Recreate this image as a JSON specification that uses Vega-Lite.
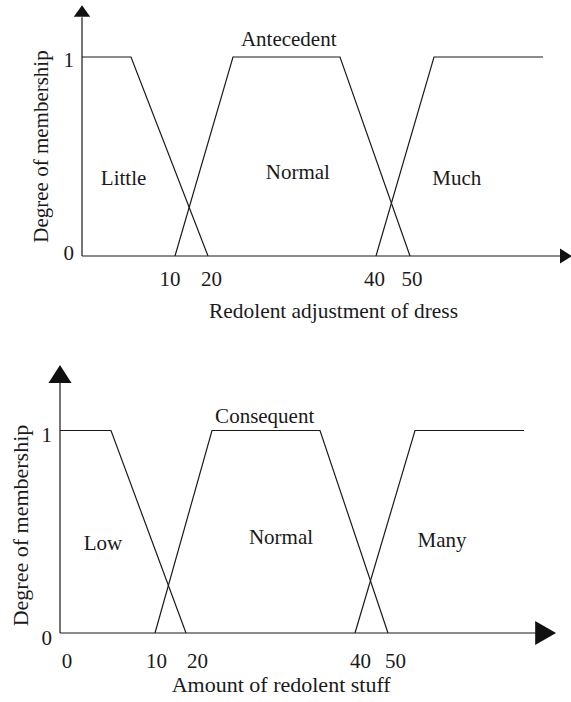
{
  "$schema": "https://vega.github.io/schema/vega-lite/v6.json",
  "background": "white",
  "padding": {"top": 5, "left": 9, "right": 0, "bottom": 0},
  "autosize": {"type": "pad"},
  "bounds": "flush",
  "spacing": 109,
  "datasets": {
    "mf": [
      {"panel": "top", "set": "Little", "u": 0, "mu": 1},
      {"panel": "top", "set": "Little", "u": 49, "mu": 1},
      {"panel": "top", "set": "Little", "u": 126, "mu": 0},
      {"panel": "top", "set": "Normal", "u": 93, "mu": 0},
      {"panel": "top", "set": "Normal", "u": 151, "mu": 1},
      {"panel": "top", "set": "Normal", "u": 258, "mu": 1},
      {"panel": "top", "set": "Normal", "u": 328, "mu": 0},
      {"panel": "top", "set": "Much", "u": 294, "mu": 0},
      {"panel": "top", "set": "Much", "u": 352, "mu": 1},
      {"panel": "top", "set": "Much", "u": 461, "mu": 1},
      {"panel": "bottom", "set": "Low", "u": 0, "mu": 1},
      {"panel": "bottom", "set": "Low", "u": 51, "mu": 1},
      {"panel": "bottom", "set": "Low", "u": 126, "mu": 0},
      {"panel": "bottom", "set": "Normal", "u": 95, "mu": 0},
      {"panel": "bottom", "set": "Normal", "u": 152, "mu": 1},
      {"panel": "bottom", "set": "Normal", "u": 260, "mu": 1},
      {"panel": "bottom", "set": "Normal", "u": 328, "mu": 0},
      {"panel": "bottom", "set": "Many", "u": 295, "mu": 0},
      {"panel": "bottom", "set": "Many", "u": 355, "mu": 1},
      {"panel": "bottom", "set": "Many", "u": 464, "mu": 1}
    ],
    "labels": [
      {"panel": "top", "text": "Antecedent", "u": 206.7, "mu": 1.057},
      {"panel": "top", "text": "Little", "u": 41.6, "mu": 0.357},
      {"panel": "top", "text": "Normal", "u": 215.8, "mu": 0.387},
      {"panel": "top", "text": "Much", "u": 374.8, "mu": 0.357},
      {"panel": "bottom", "text": "Consequent", "u": 204.7, "mu": 1.039},
      {"panel": "bottom", "text": "Low", "u": 43, "mu": 0.41},
      {"panel": "bottom", "text": "Normal", "u": 221, "mu": 0.44},
      {"panel": "bottom", "text": "Many", "u": 382, "mu": 0.426}
    ]
  },
  "vconcat": [
    {
      "width": 512,
      "height": 251,
      "layer": [
        {
          "data": {"name": "mf"},
          "transform": [{"filter": "datum.panel === 'top'"}],
          "mark": {"type": "line", "color": "#1a1a1a", "strokeWidth": 1.2},
          "encoding": {
            "x": {
              "field": "u", "type": "quantitative",
              "scale": {"domain": [-22, 490], "nice": false, "zero": false},
              "axis": {
                "values": [87.5, 129, 292, 329.6],
                "labelExpr": "datum.value < 100 ? '10' : datum.value < 200 ? '20' : datum.value < 310 ? '40' : '50'",
                "labelBaseline": "alphabetic",
                "labelPadding": 29,
                "title": "Redolent adjustment of dress",
                "titleFontSize": 21.4,
                "titleX": 273, "titleY": 61,
                "titleAlign": "center", "titleBaseline": "alphabetic"
              }
            },
            "y": {
              "field": "mu", "type": "quantitative",
              "scale": {"domain": [0, 1.2613], "nice": false, "zero": false},
              "axis": {
                "values": [0, 1],
                "format": ".0f",
                "offset": -22,
                "labelBaseline": "middle",
                "labelPadding": 8.5,
                "labelOffset": {"condition": {"test": "datum.value === 1", "value": 4}, "value": -3},
                "title": "Degree of membership",
                "titleX": -34.5, "titleY": 141,
                "titleAngle": -90,
                "titleAlign": "center", "titleBaseline": "alphabetic"
              }
            },
            "detail": {"field": "set"}
          }
        },
        {
          "data": {"values": [{}]},
          "mark": {"type": "rule", "color": "#1a1a1a", "strokeWidth": 1.2},
          "encoding": {
            "x": {"datum": 0},
            "y": {"datum": 0},
            "y2": {"datum": 1.2}
          }
        },
        {
          "data": {"values": [{}]},
          "mark": {"type": "rule", "color": "#1a1a1a", "strokeWidth": 1.2},
          "encoding": {
            "x": {"datum": 0},
            "x2": {"datum": 484},
            "y": {"datum": 0}
          }
        },
        {
          "data": {"values": [{}]},
          "mark": {"type": "point", "shape": "M0,-0.71L1,0.71L-1,0.71Z", "filled": true, "color": "#111111", "opacity": 1, "size": 270, "yOffset": 6, "strokeWidth": 0},
          "encoding": {
            "x": {"datum": 0},
            "y": {"datum": 1.2613}
          }
        },
        {
          "data": {"values": [{}]},
          "mark": {"type": "point", "shape": "M0.8,0L-0.8,1L-0.8,-1Z", "filled": true, "color": "#111111", "opacity": 1, "size": 225, "xOffset": -6, "strokeWidth": 0},
          "encoding": {
            "x": {"datum": 490},
            "y": {"datum": 0}
          }
        },
        {
          "data": {"name": "labels"},
          "transform": [{"filter": "datum.panel === 'top'"}],
          "mark": {"type": "text", "font": "Liberation Serif", "fontSize": 21, "color": "#1a1a1a", "align": "center", "baseline": "alphabetic"},
          "encoding": {
            "x": {"field": "u", "type": "quantitative"},
            "y": {"field": "mu", "type": "quantitative"},
            "text": {"field": "text"}
          }
        }
      ]
    },
    {
      "width": 512,
      "height": 268,
      "layer": [
        {
          "data": {"name": "mf"},
          "transform": [{"filter": "datum.panel === 'bottom'"}],
          "mark": {"type": "line", "color": "#1a1a1a", "strokeWidth": 1.2},
          "encoding": {
            "x": {
              "field": "u", "type": "quantitative",
              "scale": {"domain": [0, 512], "nice": false, "zero": false},
              "axis": {
                "values": [6.5, 96, 137, 300, 335],
                "labelExpr": "datum.value < 50 ? '0' : datum.value < 110 ? '10' : datum.value < 200 ? '20' : datum.value < 320 ? '40' : '50'",
                "labelBaseline": "alphabetic",
                "labelPadding": 34,
                "title": "Amount of redolent stuff",
                "titleX": 220.7, "titleY": 58,
                "titleFontSize": 22,
                "titleAlign": "center", "titleBaseline": "alphabetic"
              }
            },
            "y": {
              "field": "mu", "type": "quantitative",
              "scale": {"domain": [0, 1.3235], "nice": false, "zero": false},
              "axis": {
                "values": [0, 1],
                "format": ".0f",
                "labelBaseline": "middle",
                "labelPadding": 8.5,
                "labelOffset": 5,
                "title": "Degree of membership",
                "titleFontSize": 22,
                "titleX": -33, "titleY": 160,
                "titleAngle": -90,
                "titleAlign": "center", "titleBaseline": "alphabetic"
              }
            },
            "detail": {"field": "set"}
          }
        },
        {
          "data": {"values": [{}]},
          "mark": {"type": "rule", "color": "#1a1a1a", "strokeWidth": 1.2},
          "encoding": {
            "x": {"datum": 0},
            "y": {"datum": 0},
            "y2": {"datum": 1.25}
          }
        },
        {
          "data": {"values": [{}]},
          "mark": {"type": "rule", "color": "#1a1a1a", "strokeWidth": 1.2},
          "encoding": {
            "x": {"datum": 0},
            "x2": {"datum": 486},
            "y": {"datum": 0}
          }
        },
        {
          "data": {"values": [{}]},
          "mark": {"type": "point", "shape": "M0,-0.78L1,0.78L-1,0.78Z", "filled": true, "color": "#111111", "opacity": 1, "size": 529, "yOffset": 9, "strokeWidth": 0},
          "encoding": {
            "x": {"datum": 0},
            "y": {"datum": 1.3235}
          }
        },
        {
          "data": {"values": [{}]},
          "mark": {"type": "point", "shape": "M0.87,0L-0.87,1L-0.87,-1Z", "filled": true, "color": "#111111", "opacity": 1, "size": 576, "xOffset": -10.4, "strokeWidth": 0},
          "encoding": {
            "x": {"datum": 496},
            "y": {"datum": 0}
          }
        },
        {
          "data": {"name": "labels"},
          "transform": [{"filter": "datum.panel === 'bottom'"}],
          "mark": {"type": "text", "font": "Liberation Serif", "fontSize": 21, "color": "#1a1a1a", "align": "center", "baseline": "alphabetic"},
          "encoding": {
            "x": {"field": "u", "type": "quantitative"},
            "y": {"field": "mu", "type": "quantitative"},
            "text": {"field": "text"}
          }
        }
      ]
    }
  ],
  "config": {
    "font": "Liberation Serif",
    "view": {"stroke": null},
    "axis": {
      "labelFont": "Liberation Serif",
      "titleFont": "Liberation Serif",
      "labelFontSize": 21,
      "titleFontSize": 21,
      "titleFontWeight": "normal",
      "labelColor": "#1a1a1a",
      "titleColor": "#1a1a1a",
      "grid": false,
      "domain": false,
      "ticks": false,
      "tickSize": 0,
      "labelOverlap": false,
      "labelFlush": false,
      "labelBound": false,
      "minExtent": 0
    }
  }
}
